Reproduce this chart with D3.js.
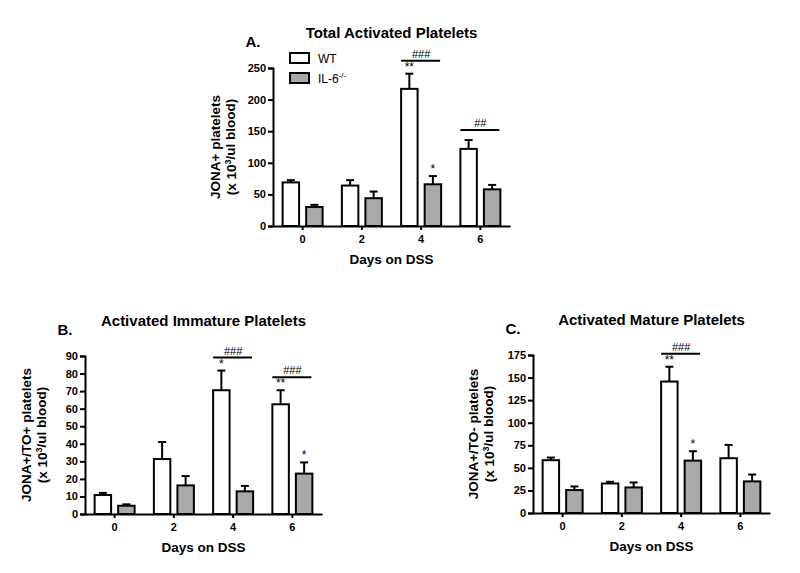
<!DOCTYPE html>
<html>
<head>
<meta charset="utf-8">
<script src="https://cdn.jsdelivr.net/npm/d3@7"></script>
<style>
  body { margin: 0; background: #fff; }
  svg text { font-family: "Liberation Sans", Arial, sans-serif; fill: #000; }
</style>
</head>
<body>
<svg id="chart" width="800" height="573"></svg>
<script>
// days on DSS and the two mouse lines
const days = [0, 2, 4, 6];
const groups = ['WT', 'IL-6'];

// A. total activated platelets (mean, SEM)
const totalWT = [69, 64, 217, 122];
const totalWTsem = [3.5, 8.5, 24, 14];
const totalIL6 = [30, 44, 66, 58];
const totalIL6sem = [3.5, 10.5, 13, 7];

// B. activated immature platelets
const immWT = [10.8, 31.3, 70.5, 62.5];
const immWTsem = [1.2, 9.7, 11.2, 8];
const immIL6 = [4.7, 16.3, 12.9, 23];
const immIL6sem = [0.8, 5.3, 3.1, 6.4];

// C. activated mature platelets
const matWT = [58.5, 32.7, 145.6, 60.7];
const matWTsem = [2.9, 1.9, 16.4, 14.7];
const matIL6 = [25.4, 28.3, 58, 35];
const matIL6sem = [4, 5.5, 10.4, 7.6];

// significance marks
const starsA = [{day: 4, g: 0, t: '**'}, {day: 4, g: 1, t: '*'}];
const hashA = [{day: 4, t: '###'}, {day: 6, t: '##'}];
const starsB = [{day: 4, g: 0, t: '*'}, {day: 6, g: 0, t: '**'}, {day: 6, g: 1, t: '*'}];
const hashB = [{day: 4, t: '###'}, {day: 6, t: '###'}];
const starsC = [{day: 4, g: 0, t: '**'}, {day: 4, g: 1, t: '*'}];
const hashC = [{day: 4, t: '###'}];

const ticksA = d3.range(0, 251, 50);
const ticksB = d3.range(0, 91, 10);
const ticksC = d3.range(0, 176, 25);

const fills = ['#ffffff', '#a9a9a9'];
const svg = d3.select('#chart');

const drawPanel = p => {
    const x = d3.scaleBand().domain(days).range([p.left, p.left + 237]);
    const xg = d3.scaleBand().domain([0, 1]).range([-20, 20]).paddingInner(0.3);
    const y = d3.scaleLinear().domain([0, p.max]).range([p.bottom, p.bottom - 158]);
    const g = svg.append('g');

    const rows = days.map((d, i) => [
        {day: d, g: 0, v: p.wt[i], e: p.wtSem[i]},
        {day: d, g: 1, v: p.il[i], e: p.ilSem[i]}
    ]).flat();
    const cx = r => x(r.day) + x.bandwidth() / 2 + xg(r.g) + xg.bandwidth() / 2;
    const errTop = (day, gi) => {
        const r = rows.find(q => q.day === day && q.g === gi);
        return y(r.v + r.e);
    };

    // error bars (upper only)
    const eb = g.selectAll('g.err').data(rows).enter().append('g').classed('err', true);
    eb.append('line')
        .attr('x1', cx).attr('x2', cx)
        .attr('y1', r => y(r.v)).attr('y2', r => y(r.v + r.e))
        .attr('stroke', '#000').attr('stroke-width', 2);
    eb.append('line')
        .attr('x1', r => cx(r) - 4).attr('x2', r => cx(r) + 4)
        .attr('y1', r => y(r.v + r.e)).attr('y2', r => y(r.v + r.e))
        .attr('stroke', '#000').attr('stroke-width', 2);

    g.selectAll('rect.bar').data(rows).enter().append('rect')
        .classed('bar', true)
        .attr('x', r => x(r.day) + x.bandwidth() / 2 + xg(r.g))
        .attr('width', xg.bandwidth())
        .attr('y', r => y(r.v))
        .attr('height', r => y(0) - y(r.v))
        .attr('fill', r => fills[r.g])
        .attr('stroke', '#000').attr('stroke-width', 2);

    // axes
    const ya = g.append('g').attr('transform', `translate(${p.left},0)`)
        .call(d3.axisLeft(y).tickValues(p.ticks).tickSize(5).tickSizeOuter(5).tickPadding(2));
    const xa = g.append('g').attr('transform', `translate(0,${p.bottom})`)
        .call(d3.axisBottom(x).tickSize(4).tickSizeOuter(0).tickPadding(5));
    [ya, xa].forEach(a => {
        a.selectAll('path, line').attr('stroke', '#000').attr('stroke-width', 2);
        a.selectAll('text').attr('font-size', 11).attr('font-weight', 'bold')
            .attr('font-family', '"Liberation Sans", Arial, sans-serif').attr('fill', '#000');
    });

    // stars
    g.selectAll('text.star').data(p.stars).enter().append('text')
        .attr('x', s => cx({day: s.day, g: s.g}))
        .attr('y', s => errTop(s.day, s.g) - 3)
        .attr('text-anchor', 'middle')
        .attr('font-size', 12).attr('fill', '#000')
        .text(s => s.t);

    // hash bars
    p.hashes.forEach(h => {
        const hasStar = p.stars.some(s => s.day === h.day);
        const yl = Math.min(errTop(h.day, 0), errTop(h.day, 1)) - (hasStar ? 13 : 10);
        const c = x(h.day) + x.bandwidth() / 2;
        g.append('line')
            .attr('x1', c - 20).attr('x2', c + 19)
            .attr('y1', yl).attr('y2', yl)
            .attr('stroke', '#000').attr('stroke-width', 2);
        g.append('text')
            .attr('x', c).attr('y', yl - 3)
            .attr('text-anchor', 'middle')
            .attr('font-size', 11).attr('fill', '#000')
            .text(h.t);
    });

    const mid = p.left + 237 / 2;
    const top = p.bottom - 158;
    g.append('text').attr('x', mid).attr('y', top - 30)
        .attr('text-anchor', 'middle').attr('font-size', 15).attr('font-weight', 'bold')
        .text(p.title);
    g.append('text').attr('x', p.left - 20).attr('y', top - 21)
        .attr('text-anchor', 'middle').attr('font-size', 15).attr('font-weight', 'bold')
        .text(p.letter);
    g.append('text').attr('x', mid).attr('y', p.bottom + 38)
        .attr('text-anchor', 'middle').attr('font-size', 13.5).attr('font-weight', 'bold')
        .text('Days on DSS');

    const yc = (p.bottom + top) / 2;
    g.append('text')
        .attr('transform', `translate(${p.labX},${yc}) rotate(-90)`)
        .attr('text-anchor', 'middle').attr('dy', '0.35em')
        .attr('font-size', 13.5).attr('font-weight', 'bold')
        .text(p.ylabel);
    const l2 = g.append('text')
        .attr('transform', `translate(${p.labX + 16},${yc}) rotate(-90)`)
        .attr('text-anchor', 'middle').attr('dy', '0.35em')
        .attr('font-size', 13.5).attr('font-weight', 'bold');
    l2.append('tspan').text('(x 10');
    l2.append('tspan').attr('font-size', 9).attr('dy', '-0.5em').text('3');
    l2.append('tspan').attr('dy', '0.3em').text('/ul blood)');
};

drawPanel({left: 273, bottom: 226, max: 250, ticks: ticksA, wt: totalWT, wtSem: totalWTsem,
    il: totalIL6, ilSem: totalIL6sem, stars: starsA, hashes: hashA,
    title: 'Total Activated Platelets', letter: 'A.', ylabel: 'JONA+ platelets', labX: 215});
drawPanel({left: 85, bottom: 514, max: 90, ticks: ticksB, wt: immWT, wtSem: immWTsem,
    il: immIL6, ilSem: immIL6sem, stars: starsB, hashes: hashB,
    title: 'Activated Immature Platelets', letter: 'B.', ylabel: 'JONA+/TO+ platelets', labX: 26});
drawPanel({left: 533, bottom: 513, max: 175, ticks: ticksC, wt: matWT, wtSem: matWTsem,
    il: matIL6, ilSem: matIL6sem, stars: starsC, hashes: hashC,
    title: 'Activated Mature Platelets', letter: 'C.', ylabel: 'JONA+/TO- platelets', labX: 473});

// legend for panel A
const leg = svg.append('g').selectAll('g').data(groups).enter().append('g')
    .attr('transform', (d, i) => `translate(290,${53 + i * 20})`);
leg.append('rect').attr('width', 19).attr('height', 10)
    .attr('fill', (d, i) => fills[i]).attr('stroke', '#000').attr('stroke-width', 2);
const lt = leg.append('text').attr('x', 28).attr('y', 9.5).attr('font-size', 12);
lt.append('tspan').text(d => d);
lt.filter((d, i) => i === 1).append('tspan').attr('font-size', 8).attr('dy', '-0.6em').text('-/-');
</script>
</body>
</html>
